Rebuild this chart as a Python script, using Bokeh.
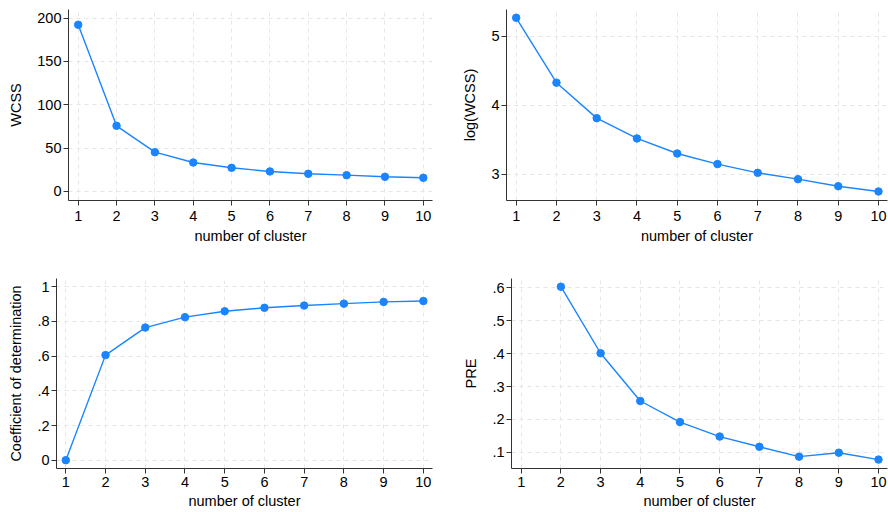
from bokeh.plotting import figure
from bokeh.layouts import column, row
from bokeh.models import FixedTicker, Range1d
from bokeh.embed import file_html
from bokeh.resources import INLINE

# ---- data ----
clusters = [1, 2, 3, 4, 5, 6, 7, 8, 9, 10]
wcss = [192.2, 75.7, 45.3, 33.4, 27.3, 23.1, 20.4, 18.8, 16.9, 15.8]
log_wcss = [5.27, 4.33, 3.816, 3.522, 3.304, 3.15, 3.024, 2.932, 2.83, 2.754]
r2 = [0.0, 0.606, 0.765, 0.825, 0.859, 0.879, 0.892, 0.903, 0.913, 0.918]
pre_clusters = [2, 3, 4, 5, 6, 7, 8, 9, 10]
pre = [0.603, 0.401, 0.256, 0.192, 0.148, 0.117, 0.087, 0.099, 0.078]

x_ticks = [1, 2, 3, 4, 5, 6, 7, 8, 9, 10]
wcss_ticks = [0, 50, 100, 150, 200]
log_ticks = [3, 4, 5]
r2_ticks = [0, 0.2, 0.4, 0.6, 0.8, 1]
r2_labels = ["0", ".2", ".4", ".6", ".8", "1"]
pre_ticks = [0.1, 0.2, 0.3, 0.4, 0.5, 0.6]
pre_labels = [".1", ".2", ".3", ".4", ".5", ".6"]

x_label = "number of cluster"
BLUE = "#1A85FF"
FONT = "Liberation Sans"
FS = "14.5px"


def make(xs, ys, ylabel, yticks, ylabels, xr, yr, w, h, bl, br, bt, bb, xs1, xs2):
    p = figure(width=w, height=h, output_backend="svg", toolbar_location=None,
               x_range=Range1d(*xr), y_range=Range1d(*yr),
               min_border_left=bl, min_border_right=br,
               min_border_top=bt, min_border_bottom=bb)
    p.outline_line_color = None
    p.background_fill_color = "white"
    p.border_fill_color = "white"
    p.line(xs, ys, line_color=BLUE, line_width=1.4)
    p.scatter(xs, ys, size=7.5, fill_color=BLUE, line_color=BLUE)

    p.xaxis.ticker = FixedTicker(ticks=x_ticks)
    p.yaxis.ticker = FixedTicker(ticks=yticks)
    if ylabels is not None:
        p.yaxis.major_label_overrides = {t: l for t, l in zip(yticks, ylabels)}
    p.xaxis.axis_label = x_label
    p.yaxis.axis_label = ylabel
    for ax in (p.xaxis, p.yaxis):
        ax.axis_line_color = "#333333"
        ax.axis_line_width = 1
        ax.major_tick_line_color = "#333333"
        ax.major_tick_out = 5
        ax.major_tick_in = 0
        ax.minor_tick_line_color = None
        ax.major_label_text_font = FONT
        ax.major_label_text_font_size = FS
        ax.major_label_text_color = "black"
        ax.axis_label_text_font = FONT
        ax.axis_label_text_font_size = FS
        ax.axis_label_text_font_style = "normal"
        ax.axis_label_text_color = "black"
    p.xaxis.major_label_standoff = xs1
    p.xaxis.axis_label_standoff = xs2
    p.yaxis.major_label_standoff = 2
    p.yaxis.axis_label_standoff = 10
    p.yaxis.major_label_orientation = "horizontal"
    for g in (p.xgrid, p.ygrid):
        g.grid_line_color = "#e6e6e6"
        g.grid_line_dash = "4 4"
        g.grid_line_width = 1
    return p


p1 = make(clusters, wcss, "WCSS", wcss_ticks, None,
          (0.747, 10.24), (-10.4, 209.8), 444, 256, 68, 12, 9, 56, 5, 4)
p2 = make(clusters, log_wcss, "log(WCSS)", log_ticks, None,
          (0.759, 10.224), (2.623, 5.39), 444, 256, 62, 1, 9, 56, 5, 4)
p3 = make(clusters, r2, "Coefficient of determination", r2_ticks, r2_labels,
          (0.766, 10.23), (-0.048, 1.048), 444, 256, 56, 12, 22, 44, 3, 3)
p4 = make(pre_clusters, pre, "PRE", pre_ticks, pre_labels,
          (0.756, 10.227), (0.051, 0.628), 444, 256, 67, 1, 22, 44, 3, 3)

layout = column(row(p1, p2), row(p3, p4))
open("out.html", "w").write(file_html(layout, INLINE))
